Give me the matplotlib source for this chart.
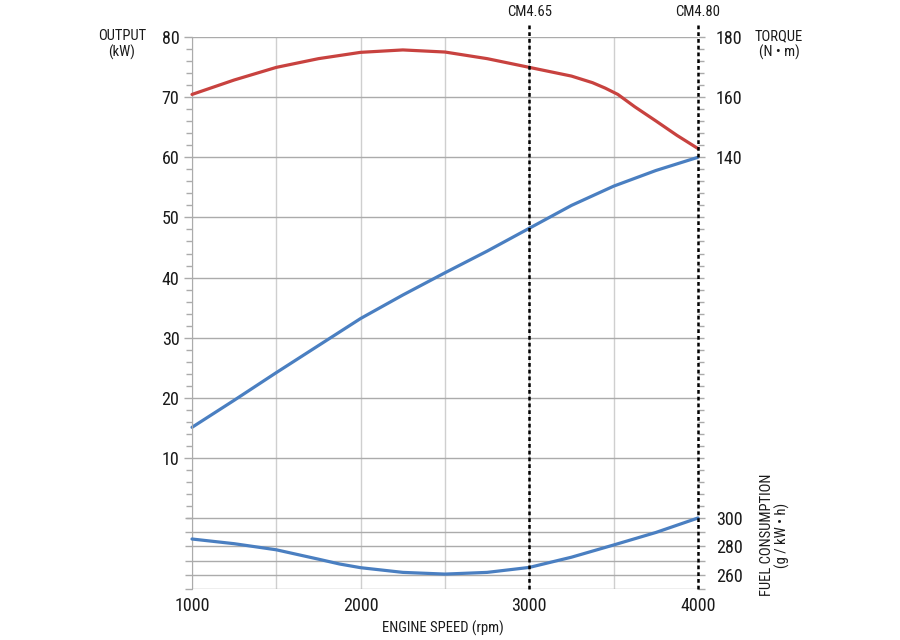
import matplotlib
matplotlib.use("Agg")
import matplotlib.pyplot as plt
from matplotlib.ticker import FixedLocator

plt.rcParams['font.family'] = ['Roboto Condensed', 'Roboto', 'DejaVu Sans']

# data
rpm = [1000, 1250, 1500, 1750, 2000, 2250, 2500, 2750, 3000, 3250, 3500, 3750, 4000]
output_kw = [15.1, 19.6, 24.2, 28.7, 33.2, 37.1, 40.8, 44.4, 48.2, 52.0, 55.2, 57.8, 60.0]

rpm_torque = [1000, 1250, 1500, 1750, 2000, 2250, 2500, 2750, 3000, 3250, 3375, 3450,
              3525, 3625, 3750, 3875, 4000]
torque_nm = [160.9, 165.7, 169.9, 172.8, 174.9, 175.7, 175.0, 172.8, 169.9, 167.0, 164.8,
             163.0, 160.9, 156.8, 152.1, 147.3, 142.9]

rpm_fuel = [1000, 1250, 1500, 1625, 1750, 1875, 2000, 2250, 2500, 2750, 3000, 3250, 3500,
            3750, 4000]
fuel_gkwh = [285.2, 281.9, 277.6, 274.3, 271.0, 267.6, 265.0, 261.7, 260.5, 261.7, 265.2,
             272.4, 281.0, 289.8, 300.0]

output_ticks = [10, 20, 30, 40, 50, 60, 70, 80]
torque_ticks = [140, 160, 180]
fuel_ticks = [250, 260, 270, 280, 290, 300]
fuel_labels = ['', '260', '', '280', '', '300']
rpm_ticks = [1000, 2000, 3000, 4000]
models = ['CM4.65', 'CM4.80']
model_rpm = [3000, 4000]

RED = '#c8423f'
BLUE = '#4a7fc1'
GRID = '#ababab'
VGRID = '#cfcfcf'
TXT = '#1a1a1a'

fig = plt.figure(figsize=(9, 6.4), dpi=100)
ax = fig.add_axes([192 / 900, 1 - 589 / 640, (698 - 192) / 900, (589 - 37) / 640])
ax_t = ax.twinx()
ax_f = ax.twinx()

ax.set_xlim(1000, 4000)
ax.set_ylim(-11.78, 80)
ax_t.set_ylim(2 * -11.78 + 20, 180)
ax_f.set_ylim(250, 638.7)

# x axis
ax.set_xticks(rpm_ticks)
ax.set_xticklabels([str(v) for v in rpm_ticks])
ax.xaxis.set_minor_locator(FixedLocator([1500, 2500, 3500]))
ax.tick_params(axis='x', which='both', length=0, pad=6, labelsize=13, colors=TXT)
ax.grid(axis='x', which='both', color=VGRID, lw=1)

# left output axis
ax.set_yticks(output_ticks)
ax.yaxis.set_minor_locator(FixedLocator([v for v in range(0, 81, 2) if v % 10 != 0] + [0]))
ax.tick_params(axis='y', which='major', length=6, width=1, color=GRID, pad=3,
               labelsize=13, labelcolor=TXT)
ax.tick_params(axis='y', which='minor', length=4, width=1, color=GRID)
ax.grid(axis='y', which='major', color=GRID, lw=1)

# right torque axis
ax_t.set_yticks(torque_ticks)
ax_t.yaxis.set_minor_locator(FixedLocator([v for v in range(24, 181, 4) if v not in torque_ticks]))
ax_t.tick_params(axis='y', which='major', length=5, width=1, color=GRID, pad=8,
                 labelsize=13, labelcolor=TXT)
ax_t.tick_params(axis='y', which='minor', length=4, width=1, color=GRID)

# fuel axis (bottom band)
ax_f.set_yticks(fuel_ticks)
ax_f.set_yticklabels(fuel_labels)
ax_f.tick_params(axis='y', left=True, right=True, labelleft=False, length=5, width=1,
                 color=GRID, pad=8, labelsize=13, labelcolor=TXT)
ax_f.grid(axis='y', color=GRID, lw=1)

for a in (ax, ax_t, ax_f):
    for s in a.spines.values():
        s.set_visible(False)
ax.spines['left'].set_visible(True)
ax.spines['left'].set_color(GRID)

ax.plot(rpm, output_kw, color=BLUE, lw=2.3, clip_on=False, solid_capstyle='round')
ax_t.plot(rpm_torque, torque_nm, color=RED, lw=2.3, clip_on=False, solid_capstyle='round')
ax_f.plot(rpm_fuel, fuel_gkwh, color=BLUE, lw=2.3, clip_on=False, solid_capstyle='round')

# model markers
for name, x in zip(models, model_rpm):
    ax_f.plot([x, x], [250, 648.6], color='black', lw=1.8, ls=(0, (1.5, 1.2)),
              clip_on=False, zorder=5)
    ax_f.text(x, 656.3, name, ha='center', va='center', fontsize=10.5, color=TXT)

fig.text(122 / 900, 1 - 29 / 640, 'OUTPUT\n(kW)', ha='center', va='top',
         fontsize=10.5, color=TXT, linespacing=1.1)
fig.text(779 / 900, 1 - 29 / 640, 'TORQUE\n(N • m)', ha='center', va='top',
         fontsize=10.5, color=TXT, linespacing=1.1)
fig.text(775 / 900, 1 - 535 / 640, 'FUEL CONSUMPTION\n(g / kW • h)', ha='center',
         va='center', rotation=90, fontsize=10.5, color=TXT, linespacing=1.1)
fig.text(443 / 900, 1 - 628 / 640, 'ENGINE SPEED (rpm)', ha='center', va='center',
         fontsize=10.5, color=TXT)

fig.savefig('out.png', dpi=100, facecolor='white')
